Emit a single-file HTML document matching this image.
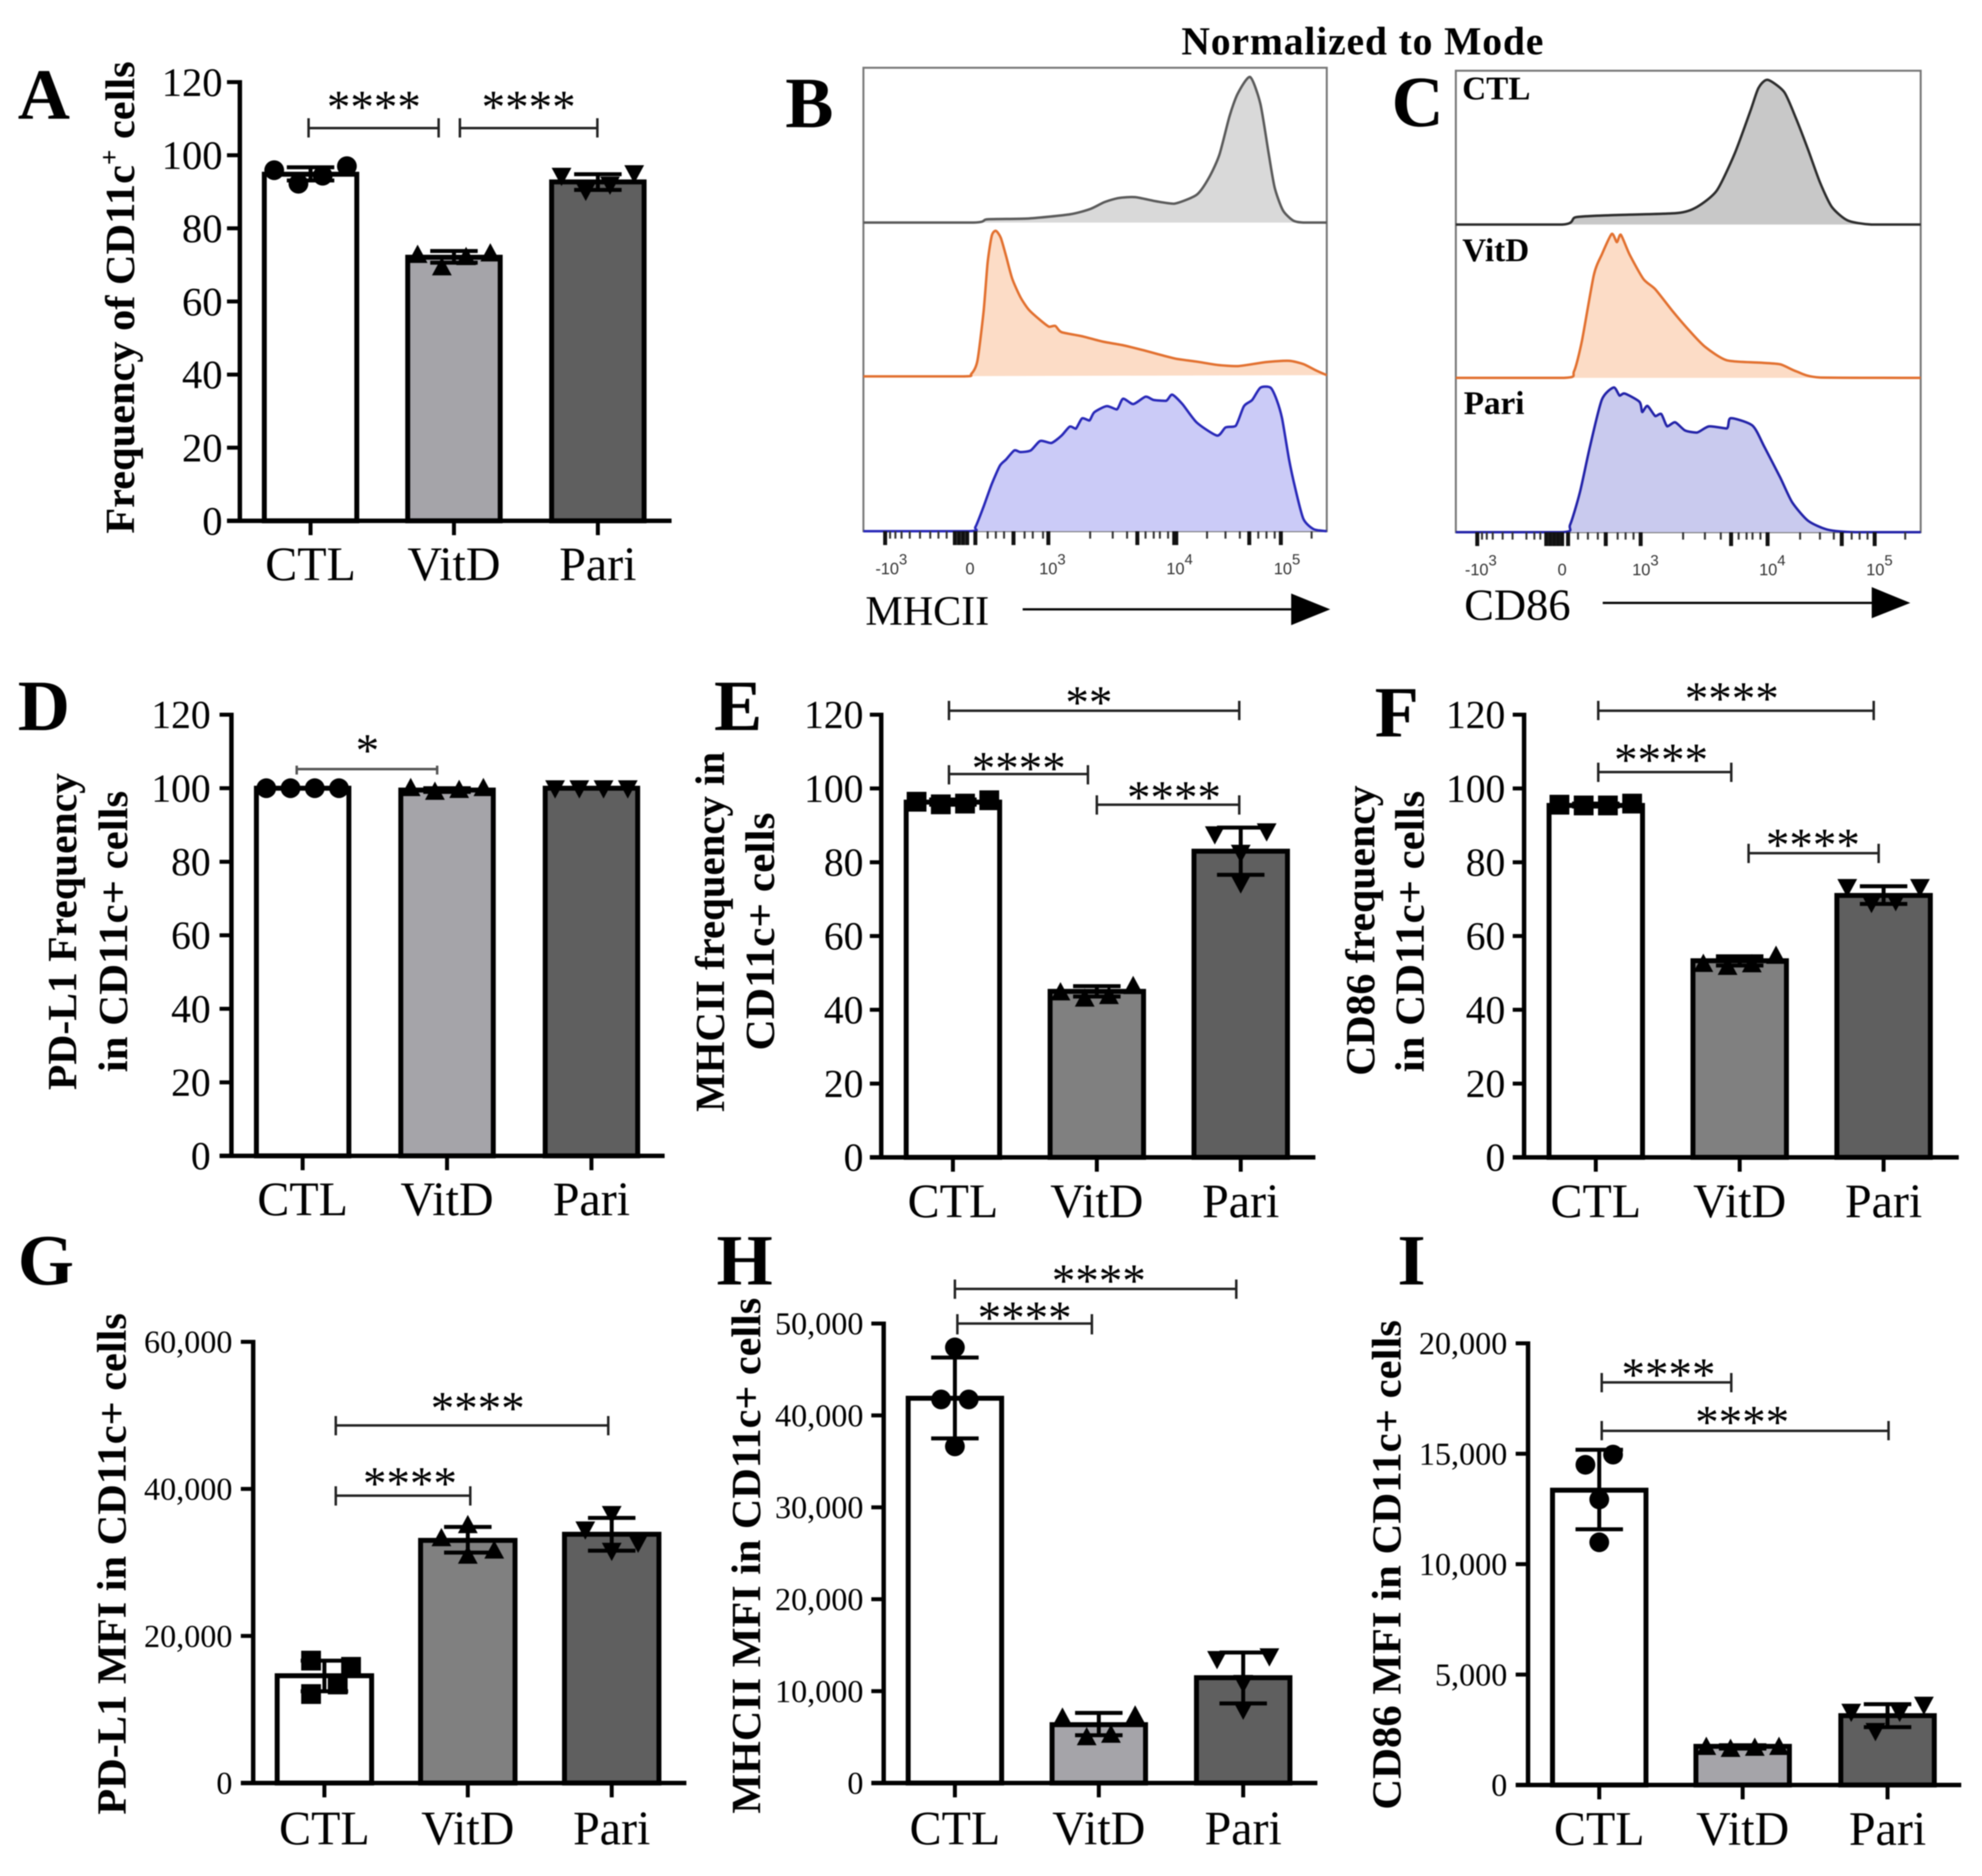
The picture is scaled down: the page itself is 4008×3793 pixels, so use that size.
<!DOCTYPE html>
<html lang="en">
<head>
<meta charset="utf-8">
<title>CD11c+ cell marker panels</title>
<style>
html,body{margin:0;padding:0;background:#fff}
svg{display:block;filter:blur(1.1px)}
text{font-family:"Liberation Serif",serif;fill:#000}
.letter{font-weight:700;font-size:146px}
.ytitle{font-weight:700;font-size:84px}
.stars{font-size:95px;text-anchor:middle}
.br{fill:none;stroke:#222;stroke-width:5}
.mini{font-weight:700;font-size:67px}
</style>
</head>
<body>
<svg id="figure" xmlns="http://www.w3.org/2000/svg" width="4008" height="3793" viewBox="0 0 4008 3793">
<rect width="4008" height="3793" fill="#fff"/>

<text class="letter" x="36" y="240">A</text>
<text class="letter" x="1588" y="257">B</text>
<text class="letter" x="2814" y="255">C</text>
<text class="letter" x="36" y="1476">D</text>
<text class="letter" x="1444" y="1476">E</text>
<text class="letter" x="2780" y="1489">F</text>
<text class="letter" x="36" y="2597">G</text>
<text class="letter" x="1449" y="2597">H</text>
<text class="letter" x="2826" y="2597">I</text>

<text x="2389" y="110" font-weight="700" font-size="80" textLength="732" lengthAdjust="spacing">Normalized to Mode</text>

<text class="ytitle" transform="translate(271 1079) rotate(-90)" textLength="955" lengthAdjust="spacingAndGlyphs">Frequency of CD11c<tspan font-size="54" dy="-32">+</tspan><tspan dy="32"> cells</tspan></text>
<text class="ytitle" transform="translate(154 2204) rotate(-90)" textLength="641" lengthAdjust="spacingAndGlyphs">PD-L1 Frequency</text>
<text class="ytitle" transform="translate(257 2168) rotate(-90)" textLength="569" lengthAdjust="spacingAndGlyphs">in CD11c+ cells</text>
<text class="ytitle" transform="translate(1464 2248) rotate(-90)" textLength="728" lengthAdjust="spacingAndGlyphs">MHCII frequency in</text>
<text class="ytitle" transform="translate(1565 2124) rotate(-90)" textLength="481" lengthAdjust="spacingAndGlyphs">CD11c+ cells</text>
<text class="ytitle" transform="translate(2779 2175) rotate(-90)" textLength="587" lengthAdjust="spacingAndGlyphs">CD86 frequency</text>
<text class="ytitle" transform="translate(2879 2168) rotate(-90)" textLength="569" lengthAdjust="spacingAndGlyphs">in CD11c+ cells</text>
<text class="ytitle" transform="translate(254 3669) rotate(-90)" textLength="1014" lengthAdjust="spacingAndGlyphs">PD-L1 MFI in CD11c+ cells</text>
<text class="ytitle" transform="translate(1537 3667) rotate(-90)" textLength="1043" lengthAdjust="spacingAndGlyphs">MHCII MFI in CD11c+ cells</text>
<text class="ytitle" transform="translate(2832 3659) rotate(-90)" textLength="990" lengthAdjust="spacingAndGlyphs">CD86 MFI in CD11c+ cells</text>

<g>
<path class="br" d="M624 239V278M624 259H887M887 239V278"/>
<text class="stars" x="756" y="248">****</text>
<path class="br" d="M930 239V278M930 259H1208M1208 239V278"/>
<text class="stars" x="1069" y="248">****</text>

<path class="br" style="stroke:#555" d="M600 1548V1566M600 1555H884M884 1548V1566"/>
<text class="stars" x="743" y="1549">*</text>

<path class="br" d="M1919 1417V1456M1919 1437H2506M2506 1417V1456"/>
<text class="stars" x="2202" y="1452">**</text>
<path class="br" d="M1919 1547V1586M1919 1565H2200M2200 1547V1586"/>
<text class="stars" x="2060" y="1585">****</text>
<path class="br" d="M2218 1608V1647M2218 1627H2506M2506 1608V1647"/>
<text class="stars" x="2374" y="1644">****</text>

<path class="br" d="M3232 1417V1456M3232 1437H3789M3789 1417V1456"/>
<text class="stars" x="3502" y="1444">****</text>
<path class="br" d="M3232 1542V1581M3232 1561H3501M3501 1542V1581"/>
<text class="stars" x="3359" y="1568">****</text>
<path class="br" d="M3536 1706V1745M3536 1725H3799M3799 1706V1745"/>
<text class="stars" x="3666" y="1740">****</text>

<path class="br" d="M679 2863V2902M679 2882H1230M1230 2863V2902"/>
<text class="stars" x="966" y="2879">****</text>
<path class="br" d="M679 3005V3044M679 3024H951M951 3005V3044"/>
<text class="stars" x="829" y="3031">****</text>

<path class="br" d="M1931 2587V2626M1931 2606H2500M2500 2587V2626"/>
<text class="stars" x="2222" y="2621">****</text>
<path class="br" d="M1936 2657V2698M1936 2676H2208M2208 2657V2698"/>
<text class="stars" x="2072" y="2696">****</text>

<path class="br" d="M3239 2776V2815M3239 2795H3501M3501 2776V2815"/>
<text class="stars" x="3374" y="2811">****</text>
<path class="br" d="M3239 2873V2912M3239 2893H3819M3819 2873V2912"/>
<text class="stars" x="3523" y="2907">****</text>
</g>

<text x="1750" y="1263" font-size="85">MHCII</text>
<path d="M2068 1232H2615" stroke="#000" stroke-width="4.5" fill="none"/>
<path d="M2611 1200L2690 1232L2611 1264Z" fill="#000"/>
<text x="2961" y="1253" font-size="90">CD86</text>
<path d="M3241 1219H3790" stroke="#000" stroke-width="4.5" fill="none"/>
<path d="M3785 1187L3863 1219L3785 1250Z" fill="#000"/>

<script>
// ---- shared categories and tick labels ----
const groupLabels = ['CTL', 'VitD', 'Pari'];
const freqTicks = [0, 20, 40, 60, 80, 100, 120];
const freqTickLabels = ['0', '20', '40', '60', '80', '100', '120'];
const gTicks = [0, 20000, 40000, 60000];
const gTickLabels = ['0', '20,000', '40,000', '60,000'];
const hTicks = [0, 10000, 20000, 30000, 40000, 50000];
const hTickLabels = ['0', '10,000', '20,000', '30,000', '40,000', '50,000'];
const iTicks = [0, 5000, 10000, 15000, 20000];
const iTickLabels = ['0', '5,000', '10,000', '15,000', '20,000'];

// ---- panel A ----
const aMeans = [94.8, 72.1, 92.7];
const aErrHigh = [96.7, 73.8, 94.8];
const aErrLow = [93.1, 70.6, 90.5];
const aCtl = [95.9, 92.2, 94.4, 97];
const aVitd = [72.7, 69.3, 72.1, 73.1];
const aPari = [94.4, 90.3, 92, 95.1];
// ---- panel D ----
const dMeans = [100, 99.5, 100];
const dErrHigh = [100, 100, 100];
const dErrLow = [100, 99, 100];
const dCtl = [100, 100, 100, 100];
const dVitd = [100, 99, 99.5, 100];
const dPari = [100, 100, 100, 100];
// ---- panel E ----
const eMeans = [96.3, 45, 83];
const eErrHigh = [97, 46.4, 89.4];
const eErrLow = [95.6, 43.6, 76.6];
const eCtl = [96.4, 95.7, 95.9, 96.8];
const eVitd = [44.7, 43, 43.7, 46.4];
const ePari = [87.6, 74.3, 82.6, 88.4];
// ---- panel F ----
const fMeans = [95.4, 53.3, 71];
const fErrHigh = [95.9, 54.5, 73.5];
const fErrLow = [95.1, 52, 68.7];
const fCtl = [95.6, 95.4, 95.4, 95.9];
const fVitd = [52.4, 51.6, 52.3, 54.6];
const fPari = [73.3, 69, 69.5, 73.3];
// ---- panel G ----
const gMeans = [14590, 33000, 33830];
const gErrHigh = [16640, 34830, 36050];
const gErrLow = [12480, 31340, 31600];
const gCtl = [16650, 12100, 15800, 13400];
const gVitd = [33280, 35050, 30900, 31600];
const gPari = [34500, 36600, 31600, 32700];
// ---- panel H ----
const hMeans = [41870, 6350, 11460];
const hErrHigh = [46300, 7630, 14200];
const hErrLow = [37500, 5200, 8660];
const hCtl = [47400, 41740, 41740, 36630];
const hVitd = [7100, 4970, 5240, 7330];
const hPari = [13500, 10900, 8000, 13800];
// ---- panel I ----
const iMeans = [13350, 1750, 3140];
const iErrHigh = [15180, 1800, 3660];
const iErrLow = [11580, 1650, 2620];
const iCtl = [14500, 14960, 12930, 10990];
const iVitd = [1720, 1630, 1680, 1720];
const iPari = [3320, 2450, 3320, 3640];

// ---- histogram B: channel and count for each overlay ----
const bCtlChannels = [297,565,600,700,800,850,885,920,960,1010,1055,1110,1140,1165,1190,1210,1240,1265,1285,1300,1320,1345,1370,1427];
const bCtlCounts = [0,0,8,10,20,33,50,60,62,52,46,68,110,165,260,315,355,290,170,85,30,5,0,0];
const bVitdChannels = [297,540,560,575,590,600,610,620,632,645,660,680,700,725,750,765,780,830,880,930,975,1020,1060,1110,1160,1210,1280,1335,1370,1400,1427];
const bVitdCounts = [0,0,6,38,158,278,343,355,338,293,238,193,163,140,121,123,108,98,85,76,65,53,43,36,28,25,35,38,30,15,3];
const bPariChannels = [297,555,570,590,610,630,645,665,680,705,728,755,780,800,815,830,848,860,890,915,930,955,985,1005,1035,1050,1075,1110,1160,1180,1205,1225,1245,1265,1290,1305,1318,1335,1350,1370,1395,1427];
const bPariCounts = [0,0,10,60,115,160,175,197,193,197,220,215,233,255,250,275,270,290,305,297,323,310,328,320,318,333,310,265,233,253,257,305,320,350,350,320,275,175,105,30,5,0];
const bMajorTicks = [350,520,530,540,550,570,663,748,965,1055,1060,1238,1315];
const bMinorTicks = [362,375,390,410,435,460,480,500,600,620,640,690,710,735,850,905,940,985,1005,1020,1040,1135,1180,1215,1260,1280,1300,1390];
const bTickLabelChannels = [365,557,758,1068,1330];
// ---- histogram C ----
const cCtlChannels = [242,510,545,640,800,850,900,945,985,1005,1028,1070,1100,1130,1160,1190,1230,1290,1414];
const cCtlCounts = [0,0,18,23,28,43,83,173,278,333,353,323,258,183,103,43,10,0,0];
const cVitdChannels = [242,515,540,560,590,610,635,648,658,680,715,745,790,830,870,925,1010,1060,1100,1160,1414];
const cVitdCounts = [0,0,16,91,251,301,351,331,349,301,241,216,161,116,76,43,37,33,16,1,0];
const cPariChannels = [242,510,530,555,580,610,640,655,668,705,712,725,745,760,775,795,820,850,880,925,935,990,1020,1060,1090,1130,1180,1250,1414];
const cPariCounts = [0,0,18,98,208,323,353,333,338,318,293,308,283,288,258,268,248,243,258,253,278,260,208,133,73,28,6,0,0];
const cMajorTicks = [296,470,480,490,500,510,525,620,708,936,1028,1215,1298];
const cMinorTicks = [308,320,335,360,385,420,440,455,550,575,600,650,670,690,815,870,910,955,975,990,1010,1110,1160,1195,1240,1260,1280,1375];
const cTickLabelChannels = [305,510,720,1040,1310];
const histTickBases = ['-10','0','10','10','10'];
const histTickExps = ['3','','3','4','5'];

const svg = document.getElementById('figure');
const NS = 'http://www.w3.org/2000/svg';
const WHITE = '#ffffff', LIGHT = '#a5a4a9', MID = '#808080', DARK = '#5f5f5f';

function make(tag, parent, attrs) {
  const n = document.createElementNS(NS, tag);
  for (const k in attrs) n.setAttribute(k, attrs[k]);
  parent.appendChild(n);
  return n;
}

function markerPath(shape, x, y) {
  const s = 20;
  if (shape === 'up') return `M${x - s} ${y + 16}L${x} ${y - 21}L${x + s} ${y + 16}Z`;
  if (shape === 'down') return `M${x - s} ${y - 16}L${x} ${y + 21}L${x + s} ${y - 16}Z`;
  if (shape === 'square') return `M${x - s} ${y - s}H${x + s}V${y + s}H${x - s}Z`;
  return `M${x - s} ${y}a${s} ${s} 0 1 0 ${2 * s} 0a${s} ${s} 0 1 0 ${-2 * s} 0Z`;
}

const SLOT = 49;
const DEFAULT_SLOTS = [-1.5, -0.5, 0.5, 1.5];

function drawBarPanel(p) {
  const key = p.key;
  const g = make('g', svg, {});
  
  
  const yScale = v => p.y0 - (v / p.max) * (p.y0 - p.yTop);
  const outer = p.half + 1.5;

  p.centers.forEach((cx, i) => {
    const top = yScale(p.means[i]);
    const bar = make('rect', g, { x: cx - outer + 5, y: top, width: 2 * outer - 10, height: p.y0 - top, fill: p.fills[i], stroke: '#000', 'stroke-width': 10 });
    
    

    const hi = yScale(p.errHigh[i]), lo = yScale(p.errLow[i]);
    const err = make('path', g, { d: `M${cx} ${hi}V${lo}M${cx - 48} ${hi}H${cx + 48}M${cx - 48} ${lo}H${cx + 48}`, stroke: '#000', 'stroke-width': 8, fill: 'none' });
    
    

    const slots = (p.slots && p.slots[i]) || DEFAULT_SLOTS;
    p.points[i].forEach((v, j) => {
      const m = make('path', g, { d: markerPath(p.shapes[i], cx + slots[j] * SLOT, yScale(v)), fill: '#000' });
      
      
    });
  });

  const axisY = make('path', g, { d: `M${p.axisX} ${p.yTop - 4}V${p.y0 + 4}`, stroke: '#000', 'stroke-width': 9, fill: 'none' });
  
  
  const axisX = make('path', g, { d: `M${p.tickLeft} ${p.y0}H${p.xEnd}`, stroke: '#000', 'stroke-width': 9, fill: 'none' });
  
  

  p.ticks.forEach((v, i) => {
    const y = yScale(v);
    const t = make('path', g, { d: `M${p.tickLeft} ${y}H${p.axisX}`, stroke: '#000', 'stroke-width': 8, fill: 'none' });
    
    
    const l = make('text', g, { x: p.labelEnd, y: y + p.tickFont * 0.34, 'font-size': p.tickFont, 'text-anchor': 'end', fill: '#111' });
    
    
    l.textContent = p.tickLabels[i];
  });

  p.centers.forEach((cx, i) => {
    const t = make('path', g, { d: `M${cx} ${p.y0}V${p.y0 + 29}`, stroke: '#000', 'stroke-width': 8, fill: 'none' });
    
    
    const l = make('text', g, { x: cx, y: p.labelY, 'font-size': 97, 'text-anchor': 'middle', fill: '#111' });
    
    
    l.textContent = groupLabels[i];
  });
}

const panelA = { key:'a', axisX:485, yTop:166, y0:1053, xEnd:1358, tickLeft:459, centers:[628,918,1209], half:97, max:120, ticks:freqTicks, tickLabels:freqTickLabels, tickFont:82, labelEnd:450, labelY:1173, fills:[WHITE,LIGHT,DARK], shapes:['circle','up','down'], means:aMeans, errHigh:aErrHigh, errLow:aErrLow, points:[aCtl,aVitd,aPari] };
const panelD = { key:'d', axisX:468, yTop:1445, y0:2337, xEnd:1344, tickLeft:444, centers:[612,904,1196], half:97, max:120, ticks:freqTicks, tickLabels:freqTickLabels, tickFont:80, labelEnd:426, labelY:2457, fills:[WHITE,LIGHT,DARK], shapes:['circle','up','down'], means:dMeans, errHigh:dErrHigh, errLow:dErrLow, points:[dCtl,dVitd,dPari] };
const panelE = { key:'e', axisX:1782, yTop:1445, y0:2340, xEnd:2660, tickLeft:1759, centers:[1927,2218,2509], half:98, max:120, ticks:freqTicks, tickLabels:freqTickLabels, tickFont:80, labelEnd:1746, labelY:2461, fills:[WHITE,MID,DARK], shapes:['square','up','down'], means:eMeans, errHigh:eErrHigh, errLow:eErrLow, points:[eCtl,eVitd,ePari], slots:[null,null,[-1.07,0,0,1.07]] };
const panelF = { key:'f', axisX:3082, yTop:1445, y0:2340, xEnd:3961, tickLeft:3059, centers:[3227,3518,3809], half:98, max:120, ticks:freqTicks, tickLabels:freqTickLabels, tickFont:80, labelEnd:3044, labelY:2461, fills:[WHITE,MID,DARK], shapes:['square','up','down'], means:fMeans, errHigh:fErrHigh, errLow:fErrLow, points:[fCtl,fVitd,fPari] };
const panelG = { key:'g', axisX:512, yTop:2713, y0:3605, xEnd:1388, tickLeft:487, centers:[656,946,1237], half:99, max:60000, ticks:gTicks, tickLabels:gTickLabels, tickFont:65, labelEnd:470, labelY:3729, fills:[WHITE,MID,DARK], shapes:['square','up','down'], means:gMeans, errHigh:gErrHigh, errLow:gErrLow, points:[gCtl,gVitd,gPari], slots:[[-0.55,-0.55,1.1,0.55],[-1.09,0,0,1.09],[-1.09,0,0,1.09]] };
const panelH = { key:'h', axisX:1787, yTop:2676, y0:3605, xEnd:2664, tickLeft:1762, centers:[1931,2222,2514], half:98, max:50000, ticks:hTicks, tickLabels:hTickLabels, tickFont:65, labelEnd:1746, labelY:3729, fills:[WHITE,LIGHT,DARK], shapes:['circle','up','down'], means:hMeans, errHigh:hErrHigh, errLow:hErrLow, points:[hCtl,hVitd,hPari], slots:[[0,-0.57,0.57,0],null,[-1.08,0,0,1.08]] };
const panelI = { key:'i', axisX:3090, yTop:2716, y0:3609, xEnd:3966, tickLeft:3065, centers:[3234,3524,3817], half:98, max:20000, ticks:iTicks, tickLabels:iTickLabels, tickFont:65, labelEnd:3048, labelY:3730, fills:[WHITE,LIGHT,DARK], shapes:['circle','up','down'], means:iMeans, errHigh:iErrHigh, errLow:iErrLow, points:[iCtl,iVitd,iPari], slots:[[-0.57,0.57,0,0],null,null] };
[panelA, panelD, panelE, panelF, panelG, panelH, panelI].forEach(drawBarPanel);

function smoothPath(pts) {
  const t = 0.7;
  let d = `M${pts[0][0].toFixed(1)} ${pts[0][1].toFixed(1)}`;
  for (let i = 0; i < pts.length - 1; i++) {
    const p0 = pts[Math.max(0, i - 1)], p1 = pts[i], p2 = pts[i + 1], p3 = pts[Math.min(pts.length - 1, i + 2)];
    const c1x = p1[0] + (p2[0] - p0[0]) / 6 * t, c1y = Math.min(p1[1] + (p2[1] - p0[1]) / 6 * t, Math.max(p1[1], p2[1]));
    const c2x = p2[0] - (p3[0] - p1[0]) / 6 * t, c2y = Math.min(p2[1] - (p3[1] - p1[1]) / 6 * t, Math.max(p1[1], p2[1]));
    d += `C${c1x.toFixed(1)} ${c1y.toFixed(1)} ${c2x.toFixed(1)} ${c2y.toFixed(1)} ${p2[0].toFixed(1)} ${p2[1].toFixed(1)}`;
  }
  return d;
}

function drawHistogram(h) {
  const g = make('g', svg, {});
  
  
  const xScale = c => h.left + (c - h.chMin) / (h.chMax - h.chMin) * (h.right - h.left);

  const frame = make('rect', g, { x: h.left, y: h.top, width: h.right - h.left, height: h.bottom - h.top, fill: 'none', stroke: '#777', 'stroke-width': 4 });
  
  

  h.rows.forEach(r => {
    const yScale = c => r.base - c * h.countScale;
    const pts = r.channels.map((c, i) => [xScale(c), yScale(r.counts[i])]);
    const curve = smoothPath(pts);
    const area = make('path', g, { d: curve + 'Z', fill: r.fill, stroke: 'none' });
    
    
    const line = make('path', g, { d: curve, fill: 'none', stroke: r.line, 'stroke-width': 5, 'stroke-linejoin': 'round' });
    
    
  });

  h.major.forEach(c => {
    const t = make('path', g, { d: `M${xScale(c)} ${h.bottom}V${h.bottom + 28}`, stroke: '#111', 'stroke-width': 8, fill: 'none' });
    
    
  });
  h.minor.forEach(c => {
    const t = make('path', g, { d: `M${xScale(c)} ${h.bottom}V${h.bottom + 15}`, stroke: '#333', 'stroke-width': 4, fill: 'none' });
    
    
  });
  h.labelChannels.forEach((c, i) => {
    const l = make('text', g, { x: xScale(c), y: h.bottom + 87, 'font-size': 33, 'text-anchor': 'middle', style: 'font-family:"Liberation Sans",sans-serif;fill:#333' });
    
    
    l.appendChild(document.createTextNode(histTickBases[i]));
    if (histTickExps[i]) {
      const s = make('tspan', l, { dy: -20, 'font-size': 30 });
      s.textContent = histTickExps[i];
    }
  });
}

drawHistogram({ key:'b', left:1746, right:2683, top:137, bottom:1074, chMin:297, chMax:1427, countScale:0.829, major:bMajorTicks, minor:bMinorTicks, labelChannels:bTickLabelChannels, rows:[
  { name:'ctl', base:450, channels:bCtlChannels, counts:bCtlCounts, fill:'#d9d9d9', line:'#5a5a5a' },
  { name:'vitd', base:761, channels:bVitdChannels, counts:bVitdCounts, fill:'#fcdcc6', line:'#e2702f' },
  { name:'pari', base:1074, channels:bPariChannels, counts:bPariCounts, fill:'#cbcbf7', line:'#2828b8' } ] });
drawHistogram({ key:'c', left:2944, right:3884, top:143, bottom:1076, chMin:242, chMax:1414, countScale:0.829, major:cMajorTicks, minor:cMinorTicks, labelChannels:cTickLabelChannels, rows:[
  { name:'ctl', base:454, channels:cCtlChannels, counts:cCtlCounts, fill:'#c8c8c8', line:'#2c2c2c' },
  { name:'vitd', base:764, channels:cVitdChannels, counts:cVitdCounts, fill:'#fcdcc6', line:'#e2702f' },
  { name:'pari', base:1076, channels:cPariChannels, counts:cPariCounts, fill:'#c9caee', line:'#2222a8' } ] });
</script>

<text class="mini" x="2957" y="201">CTL</text>
<text class="mini" x="2957" y="528">VitD</text>
<text class="mini" x="2960" y="837">Pari</text>
</svg>
</body>
</html>
